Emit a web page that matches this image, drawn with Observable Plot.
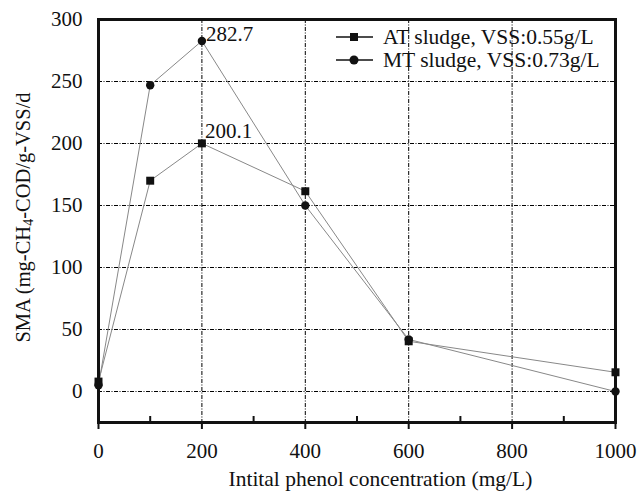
<!DOCTYPE html>
<html><head><meta charset="utf-8">
<script src="https://cdn.jsdelivr.net/npm/d3@7"></script>
<script src="https://cdn.jsdelivr.net/npm/@observablehq/plot@0.6"></script>
<style>
body{margin:0;background:#fff;}
#chart{position:relative;width:644px;height:492px;}
</style></head><body><div id="chart"></div>
<script>
// ---- data ----
const concentrations = [0, 100, 200, 400, 600, 1000];
const atSludge = [8, 170, 200.1, 161.5, 40.5, 15.5];
const mtSludge = [5, 247, 282.7, 150, 42, 0];
const seriesNames = ["AT sludge, VSS:0.55g/L", "MT sludge, VSS:0.73g/L"];
const xTicks = [0, 200, 400, 600, 800, 1000];
const xMinorTicks = [100, 300, 500, 700, 900];
const yTicks = [0, 50, 100, 150, 200, 250, 300];
const annotX = [200, 200];
const annotY = [282.7, 200.1];
const annotLabel = ["282.7", "200.1"];
const xTitle = "Intital phenol concentration (mg/L)";
const yTitleParts = ["SMA (mg-CH", "4", "-COD/g-VSS/d"];

// ---- layout ----
const W = 644, H = 492, mL = 98, mR = 29, mT = 19, mB = 70;
const FONT = '"Liberation Serif", "Times New Roman", serif';
const INK = "#111";

const atData = concentrations.map((c, i) => ({x: c, y: atSludge[i], s: seriesNames[0]}));
const mtData = concentrations.map((c, i) => ({x: c, y: mtSludge[i], s: seriesNames[1]}));
const annData = annotX.map((x, i) => ({x, y: annotY[i], label: annotLabel[i]}));
const dash = "4,1.5,1,1.5";

const plot = Plot.plot({
  width: W, height: H,
  marginLeft: mL, marginRight: mR, marginTop: mT, marginBottom: mB,
  style: {fontFamily: FONT, fontSize: "21px", color: INK, background: "#fff"},
  x: {domain: [0, 1000]},
  y: {domain: [-25, 300]},
  marks: [
    Plot.gridX(xTicks.filter(d => d > 0 && d < 1000), {stroke: "#000", strokeOpacity: 1, strokeWidth: 1, strokeDasharray: dash}),
    Plot.gridY(yTicks.filter(d => d < 300), {stroke: "#000", strokeOpacity: 1, strokeWidth: 1, strokeDasharray: dash}),
    Plot.line(atData, {x: "x", y: "y", stroke: "#888", strokeWidth: 1}),
    Plot.line(mtData, {x: "x", y: "y", stroke: "#888", strokeWidth: 1}),
    Plot.dot(atData, {x: "x", y: "y", symbol: "square", r: 4.5, fill: INK, stroke: "none"}),
    Plot.dot(mtData, {x: "x", y: "y", symbol: "circle", r: 4.2, fill: INK, stroke: "none"}),
    Plot.text([annData[0]], {x: "x", y: "y", text: "label", dx: 4, dy: -7, textAnchor: "start", lineAnchor: "middle", fontSize: 21, fill: INK}),
    Plot.text([annData[1]], {x: "x", y: "y", text: "label", dx: 3, dy: -12, textAnchor: "start", lineAnchor: "middle", fontSize: 21, fill: INK}),
    Plot.ruleX(xMinorTicks, {stroke: INK, strokeWidth: 2, insetTop: H - mT - mB - 6}),
    Plot.axisX({ticks: xTicks, tickFormat: "d", tickSize: 7, strokeWidth: 2, tickPadding: 14, label: null, fontSize: 21, stroke: INK}),
    Plot.axisY({ticks: yTicks, tickFormat: "d", tickSize: 0, tickPadding: 16, label: null, fontSize: 21}),
    Plot.frame({stroke: INK, strokeWidth: 3}),
    Plot.text([xTitle], {text: d => d, frameAnchor: "bottom-left", dx: 130, dy: 57, textAnchor: "start", lineAnchor: "middle", fontSize: 21.5, fill: INK})
  ]
});

document.getElementById("chart").appendChild(plot);

// ---- y axis title with subscript, and in-frame legend ----
const svg = d3.select(plot);
const yt = svg.append("text")
  .attr("transform", `translate(25,${(mT + H - mB) / 2 - 3}) rotate(-90)`)
  .attr("text-anchor", "middle")
  .attr("dominant-baseline", "middle")
  .attr("font-family", FONT).attr("font-size", 20.5).attr("fill", INK);
yt.append("tspan").text(yTitleParts[0]);
yt.append("tspan").attr("dy", "0.35em").attr("font-size", 14).text(yTitleParts[1]);
yt.append("tspan").attr("dy", "-0.245em").text(yTitleParts[2]);

const lg = svg.append("g").attr("font-family", FONT).attr("font-size", 21.5).attr("fill", INK).attr("text-anchor", "start");
const rows = [37, 60];
rows.forEach((ry, i) => {
  lg.append("line").attr("x1", 336).attr("x2", 373).attr("y1", ry).attr("y2", ry).attr("stroke", INK).attr("stroke-width", 1.5);
  if (i === 0) lg.append("rect").attr("x", 350).attr("y", ry - 4).attr("width", 8).attr("height", 8).attr("fill", INK);
  else lg.append("circle").attr("cx", 354).attr("cy", ry).attr("r", 4.5).attr("fill", INK);
  lg.append("text").attr("x", 383).attr("y", ry).attr("dy", "0.32em").attr("text-anchor", "start").text(seriesNames[i]);
});
</script>
</body></html>
